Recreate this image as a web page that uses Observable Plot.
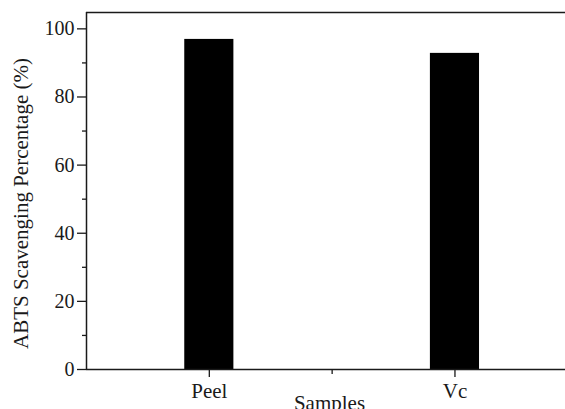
<!DOCTYPE html>
<html>
<head>
<meta charset="utf-8">
<script src="https://cdn.jsdelivr.net/npm/d3@7"></script>
<script src="https://cdn.jsdelivr.net/npm/@observablehq/plot@0.6"></script>
<style>
  html, body { margin: 0; padding: 0; background: #fff; overflow: hidden; }
  svg text { font-family: 'Liberation Serif', 'Times New Roman', serif !important; font-variant: normal !important; }
</style>
</head>
<body>
<div id="chart"></div>
<script>
const categories = ["Peel", "Vc"];
const positions = [1, 2];
const values = [96.9, 92.8];
const yMajorTicks = [0, 20, 40, 60, 80, 100];
const yMinorTicks = [10, 30, 50, 70, 90];
const xLabel = "Samples";
const yLabel = "ABTS Scavenging Percentage (%)";

const data = categories.map((c, i) => ({name: c, pos: positions[i], value: values[i]}));
const yTop = 104.8;
const halfBar = 0.1;
const ink = "#1a1a1a";
const serif = "'Liberation Serif', 'Times New Roman', serif";

const chart = Plot.plot({
  width: 565,
  height: 409,
  marginLeft: 86,
  marginTop: 12,
  marginBottom: 40,
  marginRight: 0,
  style: {fontFamily: serif, fontSize: "20px", color: ink, background: "#fff"},
  x: {type: "linear", domain: [0.5, 2.45], axis: null},
  y: {domain: [0, yTop], axis: null},
  marks: [
    Plot.rectY(data, {x1: d => d.pos - halfBar, x2: d => d.pos + halfBar, y1: 0, y2: "value", fill: "#000"}),
    Plot.ruleY([0, yTop], {stroke: ink, strokeWidth: 1.5}),
    Plot.ruleX([0.5], {stroke: ink, strokeWidth: 1.5}),
    Plot.axisY(yMajorTicks, {anchor: "left", label: null, tickSize: 9, tickPadding: 3, stroke: ink, strokeWidth: 1.3, fontSize: 20, fontFamily: serif, tickFormat: d => d}),
    Plot.axisY(yMinorTicks, {anchor: "left", label: null, tickSize: 4, stroke: ink, strokeWidth: 1.3, text: null}),
    Plot.axisX(positions, {anchor: "bottom", label: null, tickSize: 8, tickPadding: 6, stroke: ink, strokeWidth: 1.3, fontSize: 21, fontFamily: serif, tickFormat: (d) => categories[positions.indexOf(d)]}),
    Plot.axisX([1.5], {anchor: "bottom", label: null, tickSize: 5, stroke: ink, strokeWidth: 1.3, text: null}),
    Plot.text([yLabel], {frameAnchor: "left", dx: -65, dy: 12.5, rotate: -90, textAnchor: "middle", lineAnchor: "middle", fontSize: 21, fontFamily: serif, fill: ink}),
    Plot.text([xLabel], {frameAnchor: "bottom", dx: 3.5, dy: 26, textAnchor: "middle", lineAnchor: "top", fontSize: 21, fontFamily: serif, fill: ink})
  ]
});
document.getElementById("chart").appendChild(chart);
</script>
</body>
</html>
